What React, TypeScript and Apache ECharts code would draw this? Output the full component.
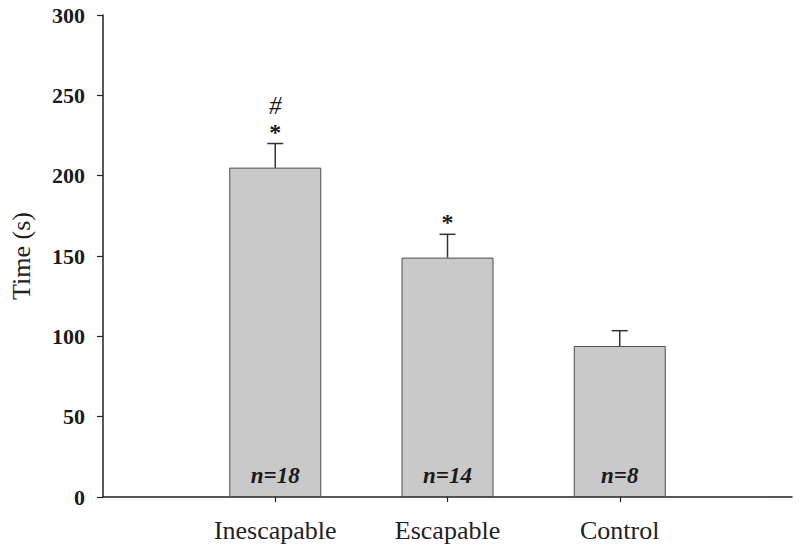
import React, { useEffect, useRef } from "react";
import * as echarts from "echarts";

const categories = ["", "Inescapable", "Escapable", "Control", ""];
const means = [205, 149, 94];
const errors = [15, 14.5, 9.5];
const nLabels = ["n=18", "n=14", "n=8"];
const starLabels = ["*", "*", ""];
const hashLabels = ["#", "", ""];
const yTicks = [0, 50, 100, 150, 200, 250, 300];

const SERIF = "'Liberation Serif', 'Times New Roman', serif";

export default function App() {
  const ref = useRef<HTMLDivElement>(null);
  useEffect(() => {
    const chart = echarts.init(ref.current!, null, { renderer: "svg" });
    const barData: any[] = ["-"];
    means.forEach((m) => barData.push(m));
    barData.push("-");
    const errData = means.map((m, i) => [i + 1, m, errors[i], i]);

    chart.setOption({
      animation: false,
      grid: { left: 101, right: 8, top: 15, bottom: 58, containLabel: false },
      xAxis: {
        type: "category",
        data: categories,
        boundaryGap: false,
        axisLine: { lineStyle: { color: "#222", width: 1.5 } },
        axisTick: {
          length: 5,
          lineStyle: { color: "#222", width: 1.2 },
          interval: (idx: number) => idx >= 1 && idx <= 3,
        },
        axisLabel: {
          interval: 0,
          margin: 20,
          fontFamily: SERIF,
          fontSize: 26,
          color: "#222",
        },
        splitLine: { show: false },
      },
      yAxis: {
        type: "value",
        min: yTicks[0],
        max: yTicks[yTicks.length - 1],
        interval: 50,
        name: "Time (s)",
        nameLocation: "middle",
        nameGap: 69,
        nameTextStyle: { fontFamily: SERIF, fontSize: 26, color: "#222" },
        axisLine: { show: true, lineStyle: { color: "#222", width: 1.5 } },
        axisTick: { show: true, length: 6, lineStyle: { color: "#222", width: 1.2 } },
        axisLabel: {
          margin: 18,
          fontFamily: SERIF,
          fontSize: 22,
          fontWeight: "bold",
          color: "#1a1a1a",
        },
        splitLine: { show: false },
      },
      series: [
        {
          type: "bar",
          data: barData,
          barWidth: 92,
          itemStyle: { color: "#c9c9c9", borderColor: "#4d4d4d", borderWidth: 1 },
          label: {
            show: true,
            position: "insideBottom",
            distance: 10,
            formatter: (p: any) => nLabels[p.dataIndex - 1] ?? "",
            fontFamily: SERIF,
            fontSize: 23,
            fontWeight: "bold",
            fontStyle: "italic",
            color: "#1a1a1a",
          },
        },
        {
          type: "custom",
          data: errData,
          z: 5,
          renderItem: (params: any, api: any) => {
            const x = api.value(0);
            const m = api.value(1);
            const e = api.value(2);
            const i = api.value(3);
            const base = api.coord([x, m]);
            const top = api.coord([x, m + e]);
            const cap = 8;
            const children: any[] = [
              {
                type: "line",
                shape: { x1: base[0], y1: base[1], x2: top[0], y2: top[1] },
                style: { stroke: "#333", lineWidth: 1.5 },
              },
              {
                type: "line",
                shape: { x1: top[0] - cap, y1: top[1], x2: top[0] + cap, y2: top[1] },
                style: { stroke: "#333", lineWidth: 1.5 },
              },
            ];
            if (starLabels[i]) {
              children.push({
                type: "text",
                x: top[0],
                y: top[1],
                style: {
                  text: starLabels[i],
                  textAlign: "center",
                  textVerticalAlign: "bottom",
                  fontFamily: SERIF,
                  fontSize: 24,
                  fontWeight: "bold",
                  fill: "#1a1a1a",
                },
              });
            }
            if (hashLabels[i]) {
              children.push({
                type: "text",
                x: top[0],
                y: top[1] - 26,
                style: {
                  text: hashLabels[i],
                  textAlign: "center",
                  textVerticalAlign: "bottom",
                  fontFamily: SERIF,
                  fontSize: 25,
                  fontStyle: "italic",
                  fill: "#1a1a1a",
                },
              });
            }
            return { type: "group", children };
          },
        },
      ],
    });
    return () => chart.dispose();
  }, []);
  return <div ref={ref} style={{ width: 800, height: 555, position: "absolute", left: 0, top: 0 }} />;
}
